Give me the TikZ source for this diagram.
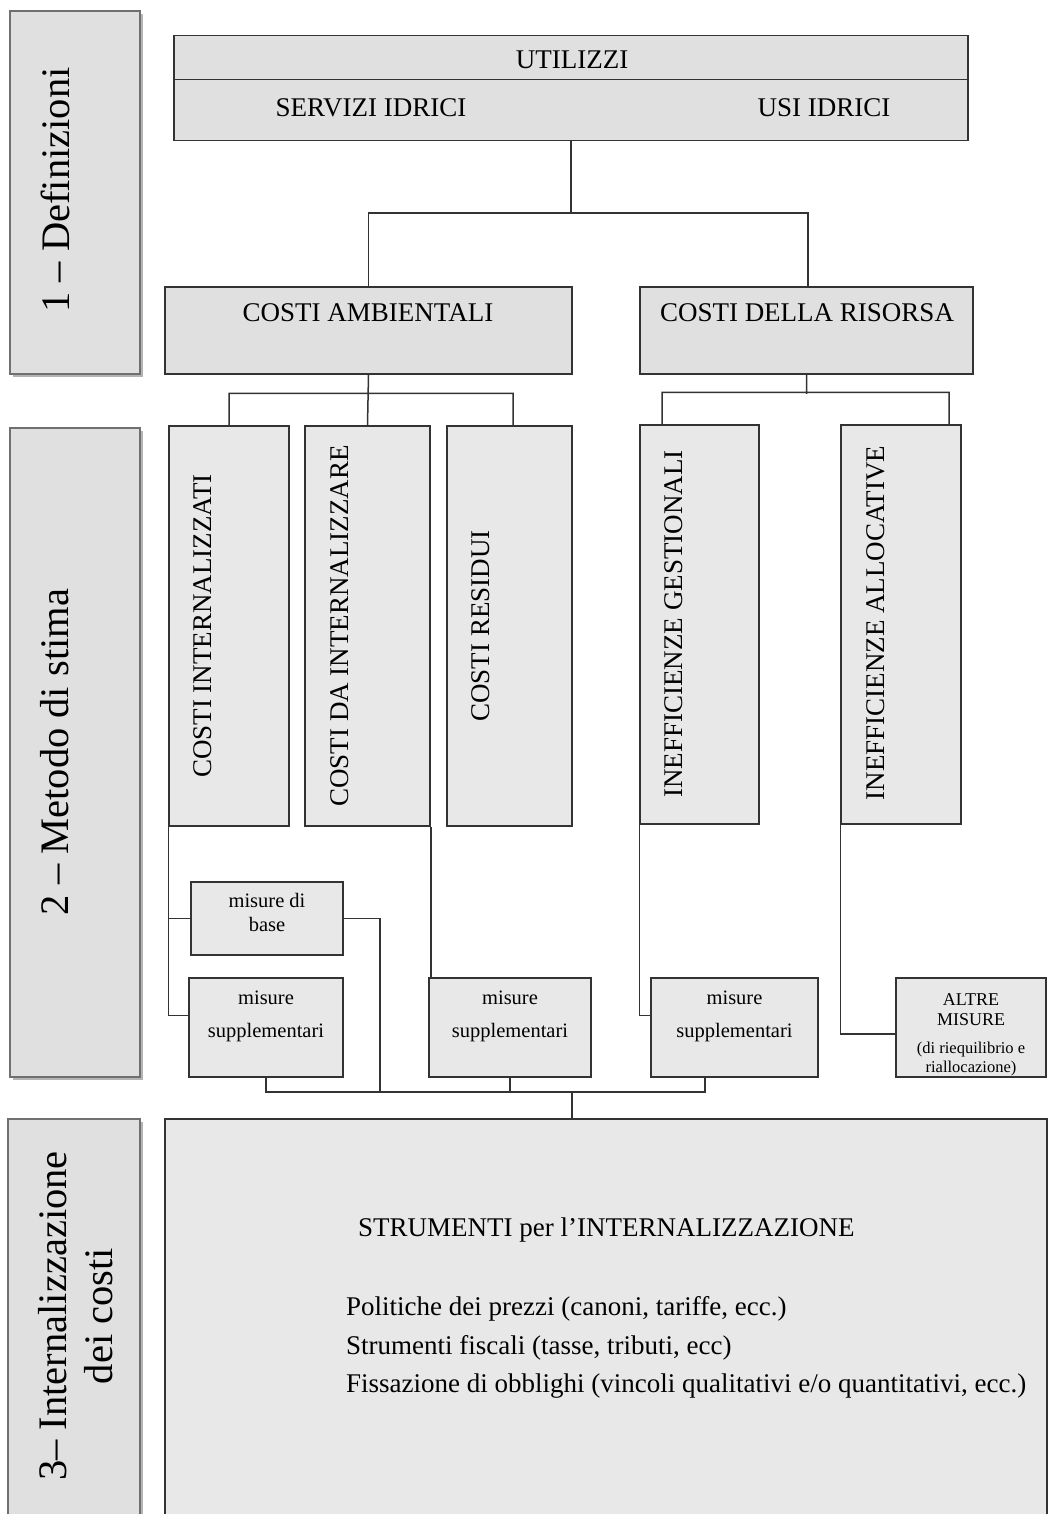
\documentclass[tikz,border=0pt]{standalone}
\usepackage{fontspec}
\setmainfont{Liberation Serif}
\usepackage{tikz}
\usetikzlibrary{shadows}

\definecolor{linec}{HTML}{333333}
\definecolor{fillA}{HTML}{E0E0E0}
\definecolor{fillB}{HTML}{E8E8E8}
\definecolor{barline}{HTML}{707070}
\definecolor{barshade}{HTML}{B4B4B4}

\tikzset{
	box/.style={rectangle, draw=linec, line width=1.5pt, fill=fillB, inner sep=0pt},
	bar/.style={rectangle, draw=barline, line width=1.8pt, fill=fillA, inner sep=0pt,
		drop shadow={shadow xshift=3pt, shadow yshift=-3pt, fill=barshade, opacity=1}},
	link/.style={draw=linec, line width=1.5pt},
	big/.style={font=\fontsize{27}{32}\selectfont, inner sep=0pt},
	vlab/.style={big, rotate=90},
	barlab/.style={font=\fontsize{40.5}{46}\selectfont, inner sep=0pt, rotate=90, align=center},
	small/.style={font=\fontsize{20.5}{24}\selectfont, inner sep=0pt, align=center},
	smallsup/.style={font=\fontsize{20.5}{33}\selectfont, inner sep=0pt, align=center}
}

\begin{document}
\begin{tikzpicture}[x=1pt, y=-1pt]
	\useasboundingbox (0,0) rectangle (1048,1514);

	\node (bar1) at (75,192.5) [bar, minimum width=130, minimum height=363] {};
	\node (bar2) at (75,752.5) [bar, minimum width=130, minimum height=649] {};
	\node (bar3) at (74,1322) [bar, minimum width=132, minimum height=406] {};
	\node (bar1t) at (55,190) [barlab] {1 -- Definizioni};
	\node (bar2t) at (55,752) [barlab] {2 -- Metodo di stima};
	\node (bar3t) at (76,1316) [barlab] {3-- Internalizzazione\\dei costi};

	\node (util) at (571,88) [box, fill=fillA, minimum width=794, minimum height=105] {};
		\draw[link] ([yshift=-45]util.north west) -- ([yshift=-45]util.north east);
		\node (utilt) at (572,60) [big] {UTILIZZI};
		\node (serv) at (371,108) [big] {SERVIZI IDRICI};
		\node (usi) at (824,108) [big] {USI IDRICI};

	\node (amb) at (368.5,330.5) [box, fill=fillA, minimum width=407, minimum height=87] {};
		\node (ambt) at (368,313) [big] {COSTI AMBIENTALI};
	\node (ris) at (806.5,330.5) [box, fill=fillA, minimum width=333, minimum height=87] {};
		\node (rist) at (807,313) [big] {COSTI DELLA RISORSA};
	\draw[link] (util.south) -- ++(0,72) -| (amb.north)
		  (util.south) ++(0,72) -| ([xshift=1.5]ris.north);

	\node (cint) at (229,626) [box, minimum width=120, minimum height=400] {};
		\node (cintt) at (203,626) [vlab] {COSTI INTERNALIZZATI};
	\node (cdai) at (367.5,626) [box, minimum width=125, minimum height=400] {};
		\node (cdait) at (340,626) [vlab] {COSTI DA INTERNALIZZARE};
	\node (cres) at (509.5,626) [box, minimum width=125, minimum height=400] {};
		\node (crest) at (481,626) [vlab] {COSTI RESIDUI};
	\node (igest) at (699.5,624.5) [box, minimum width=119, minimum height=399] {};
		\node (igestt) at (674,624) [vlab] {INEFFICIENZE GESTIONALI};
	\node (ialloc) at (901,624.5) [box, minimum width=120, minimum height=399] {};
		\node (ialloct) at (876,623) [vlab] {INEFFICIENZE ALLOCATIVE};
	\draw[link] (amb.south) -- (cdai.north)
		  (cint.north) -- ++(0,-32) -| ([xshift=3.5]cres.north)
		  (ris.south) -- ++(0,19)
		  ([xshift=-37.5]igest.north) -- ++(0,-32) -| ([xshift=48]ialloc.north);

	\node (mbase) at (267,918.5) [box, minimum width=152, minimum height=73] {};
		\node (mbaset) at (267,912.6) [small] {misure di\\base};
	\node (msup1) at (266,1027.5) [box, minimum width=154, minimum height=99] {};
		\node (msup1t) at (266,1016.4) [smallsup] {misure\\supplementari};
	\node (msup2) at (510,1027.5) [box, minimum width=162, minimum height=99] {};
		\node (msup2t) at (510,1016.4) [smallsup] {misure\\supplementari};
	\node (msup3) at (734.5,1027.5) [box, minimum width=167, minimum height=99] {};
		\node (msup3t) at (734.5,1016.4) [smallsup] {misure\\supplementari};
	\node (altre) at (971,1027.5) [box, minimum width=150, minimum height=99] {};
		\node (altret) at (971,1010) [font=\fontsize{18}{20}\selectfont, inner sep=0pt, align=center] {ALTRE\\MISURE};
		\node (altres) at (971,1059.5) [font=\fontsize{16.5}{19}\selectfont, inner sep=0pt, align=center] {(di riequilibrio e\\riallocazione)};

	\draw[link] (cint.south west) |- (mbase.west)
		  (cint.south west) |- ([yshift=12]msup1.west)
		  (cdai.south east) -- (cdai.south east |- msup2.north)
		  (igest.south west) |- ([yshift=12]msup3.west)
		  (ialloc.south west) |- ([yshift=-6.5]altre.west);

	\node (strum) at (606,1322) [box, minimum width=882, minimum height=406] {};
	\coordinate (bus) at (572,1092);
	\coordinate (bend) at (380,1092);
	\coordinate (s3) at ([xshift=-29.5]msup3.south);
	\draw[link] (mbase.east) -| (bend)
		  (msup1.south) |- (bus) -| (s3)
		  (msup2.south) -- (msup2.south |- bus)
		  (bus) -- (bus |- strum.north);

	\node (strumt) at (358,1236) [big, anchor=base west] {STRUMENTI per l’INTERNALIZZAZIONE};
	\node (pol) at (346,1315) [big, anchor=base west] {Politiche dei prezzi (canoni, tariffe, ecc.)};
	\node (fis) at (346,1354) [big, anchor=base west] {Strumenti fiscali (tasse, tributi, ecc)};
	\node (obb) at (346,1392) [big, anchor=base west] {Fissazione di obblighi (vincoli qualitativi e/o quantitativi, ecc.)};
\end{tikzpicture}
\end{document}
